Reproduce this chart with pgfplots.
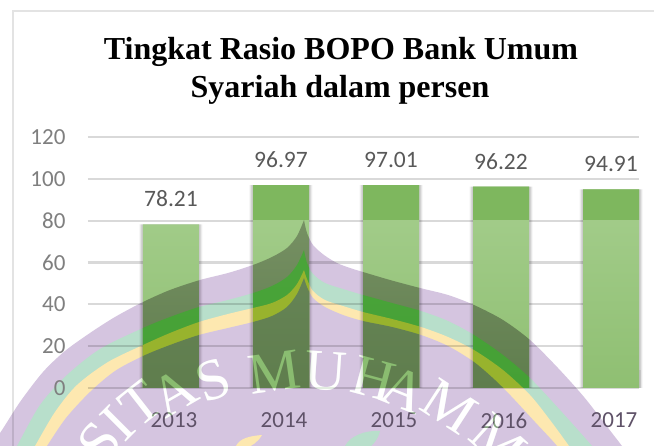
\documentclass[border=0pt]{standalone}
\usepackage{pgfplots}
\usepackage{fontspec}
\setmainfont{Carlito}
\newfontfamily\serifT{Liberation Serif}
\pgfplotsset{compat=1.18}
\definecolor{wmpurple}{HTML}{D5C5E0}
\definecolor{wmmint}{HTML}{B8DFCB}
\definecolor{wmyellow}{HTML}{FDE8B0}
\definecolor{tickgray}{HTML}{7F7F7F}
\definecolor{tickdark}{HTML}{5F5268}
\definecolor{labgray}{HTML}{595959}
\definecolor{scr}{rgb}{.26,.48,.19}
\definecolor{A5}{HTML}{A5CE8D}
\definecolor{8F}{HTML}{8FBF72}
\definecolor{c7E}{HTML}{7EB75E}
\definecolor{c7B}{HTML}{7B9468}
\definecolor{c5F}{HTML}{5F7D4D}
\definecolor{c4C}{HTML}{4CA63C}
\definecolor{c45}{HTML}{45A035}
\definecolor{c98}{HTML}{98B32D}
\definecolor{c6B}{HTML}{6B8A5C}
\pgfplotstableread{
x v
0 78.21
1 96.97
2 97.01
3 96.22
4 94.91
}\bopo
\pgfplotsset{base/.style={
  at={(88pt,-388pt)}, anchor=south west, scale only axis,
  width=551pt, height=251pt,
  xmin=-0.7545, xmax=4.2545, ymin=0, ymax=120,
  ybar, bar shift=0pt, bar width=56pt, clip=false}}
\newcommand{\barlayer}[2]{%
  \begin{axis}[base, hide axis]
  \addplot[draw=none, top color=#1, bottom color=#2] table[x=x,y=v] {\bopo};
  \end{axis}}
% watermark outlines
\def\dome{plot[smooth,tension=.5] coordinates {(-12,447) (0,433) (20,402) (43,372) (65,351) (90,333) (115,317) (143,302) (170,290) (200,280) (228,273) (253,265) (272,257) (287,248) (297,236) (304,220)}
  -- plot[smooth,tension=.5] coordinates {(304,220) (307,233) (313,245) (324,255) (337,263) (350,268) (363,272) (390,280) (420,288) (448,295) (474,305) (503,320) (530,340) (558,368) (584,397) (605,424) (622,446) (632,460)}
  -- (-12,460) -- cycle}
\def\mint{plot[smooth,tension=.5] coordinates {(8,460) (17,446) (40,405) (67,375) (100,349) (143,328) (170,317) (199,307) (228,300) (253,293) (272,286) (287,277) (297,265) (304,250)}
  -- plot[smooth,tension=.5] coordinates {(304,250) (307,263) (313,274) (325,283) (343,289) (363,295) (392,303) (421,311) (448,321) (474,335) (503,355) (530,378) (560,410) (592,446) (602,460)} -- cycle}
\def\yel{plot[smooth,tension=.5] coordinates {(26,460) (35,446) (55,412) (77,385) (108,362) (143,345) (170,333) (199,322) (228,314) (253,308) (272,303) (287,295) (297,284) (304,270)}
  -- plot[smooth,tension=.5] coordinates {(304,270) (307,279) (313,291) (325,300) (343,306) (363,312) (392,319) (421,327) (448,337) (474,350) (503,370) (530,395) (550,420) (569,446) (578,460)} -- cycle}
\def\inn{plot[smooth,tension=.5] coordinates {(38,460) (47,446) (66,418) (90,392) (115,371) (143,356) (170,345) (199,335) (228,328) (253,322) (272,316) (287,307) (297,294) (304,278)}
  -- plot[smooth,tension=.5] coordinates {(304,278) (307,287) (313,298) (325,307) (343,315) (363,321) (392,327) (421,335) (448,346) (474,362) (495,380) (511,396) (535,422) (557,446) (565,460)} -- cycle}
\newcommand{\wmletters}[1]{%
  \begin{scope}[#1]
  \foreach \c/\xx/\yy/\r in {S/100/442/52,I/118/423/45,T/141/404/38,A/174/392/30,S/213/380/20,M/274/372/8,U/326/371/-4,H/374/379/-15,A/404/390/-22,M/449/407/-33,M/498/442/-42}
    {\node[rotate=\r, inner sep=0pt, font=\serifT\fontsize{58}{58}\selectfont] at (\xx,\yy) {\c};}
  \end{scope}}
\begin{document}
\begin{tikzpicture}[x=1pt,y=-1pt]
\useasboundingbox (0,0) rectangle (654,446);
\clip (0,0) rectangle (654,446);
\fill[white] (0,0) rectangle (654,446);
% watermark
\fill[wmpurple] \dome;
\fill[wmmint] \mint;
\fill[wmyellow] \yel;
\fill[wmpurple] \inn;
\wmletters{text=white}
\fill[wmyellow] (236,446) .. controls (240,438) and (250,436) .. (262,435) .. controls (258,442) and (252,446) .. (246,448) -- cycle;
\fill[wmmint] (345,446) .. controls (350,436) and (365,430) .. (380,431) .. controls (378,440) and (372,446) .. (368,448) -- cycle;
% frame
\draw[black, opacity=.11, line width=2pt] (13,447) -- (13,11) -- (655,11);
\draw[black, opacity=.06, line width=1.5pt] (640,388) -- (640,370);
% main axis
\begin{axis}[base,
  axis line style={draw=none}, tick style={draw=none},
  ymajorgrids, major grid style={black, opacity=.15, line width=2.2pt},
  ytick={0,20,...,120}, xtick={0,1,2,3,4},
  xticklabels={2013,2014,2015,2016,2017},
  /pgf/number format/assume math mode=true,
  yticklabel style={font=\fontsize{23}{23}\selectfont, text=tickgray, xshift=-19pt},
  xticklabel style={font=\fontsize{23}{23}\selectfont, text=tickdark, yshift=-17pt, xshift=3pt},
  clip=false]
\addplot[draw=none, fill=black, opacity=.05, bar width=63pt, forget plot] table[x=x,y=v] {\bopo};
\addplot[draw=none, fill=black, opacity=.07, bar width=61pt, forget plot] table[x=x,y=v] {\bopo};
\addplot[draw=none, fill=black, opacity=.09, bar width=59pt, forget plot] table[x=x,y=v] {\bopo};
\addplot[draw=none, top color=A5, bottom color=8F,
  nodes near coords, point meta=y,
  nodes near coords style={font=\fontsize{23.5}{23.5}\selectfont, text=labgray, anchor=south, yshift=14pt,
     /pgf/number format/.cd, fixed, fixed zerofill, precision=2, assume math mode=true}]
  table[x=x,y=v] {\bopo};
\end{axis}
\begin{scope}
\clip (0,0) rectangle (654,220);
\barlayer{c7E}{c7E}
\end{scope}
\begin{scope}
\clip \dome;
\barlayer{c7B}{c5F}
\end{scope}
\begin{scope}
\clip \mint;
\barlayer{c4C}{c45}
\end{scope}
\begin{scope}
\clip \yel;
\barlayer{c98}{c98}
\end{scope}
\begin{scope}
\clip \inn;
\barlayer{c6B}{c5F}
\end{scope}
\wmletters{text=scr, blend mode=screen}
% title
\node[anchor=base, font=\serifT\bfseries\fontsize{32}{32}\selectfont] at (341,60) {Tingkat Rasio BOPO Bank Umum};
\node[anchor=base, font=\serifT\bfseries\fontsize{32}{32}\selectfont] at (340,98) {Syariah dalam persen};
\end{tikzpicture}
\end{document}
